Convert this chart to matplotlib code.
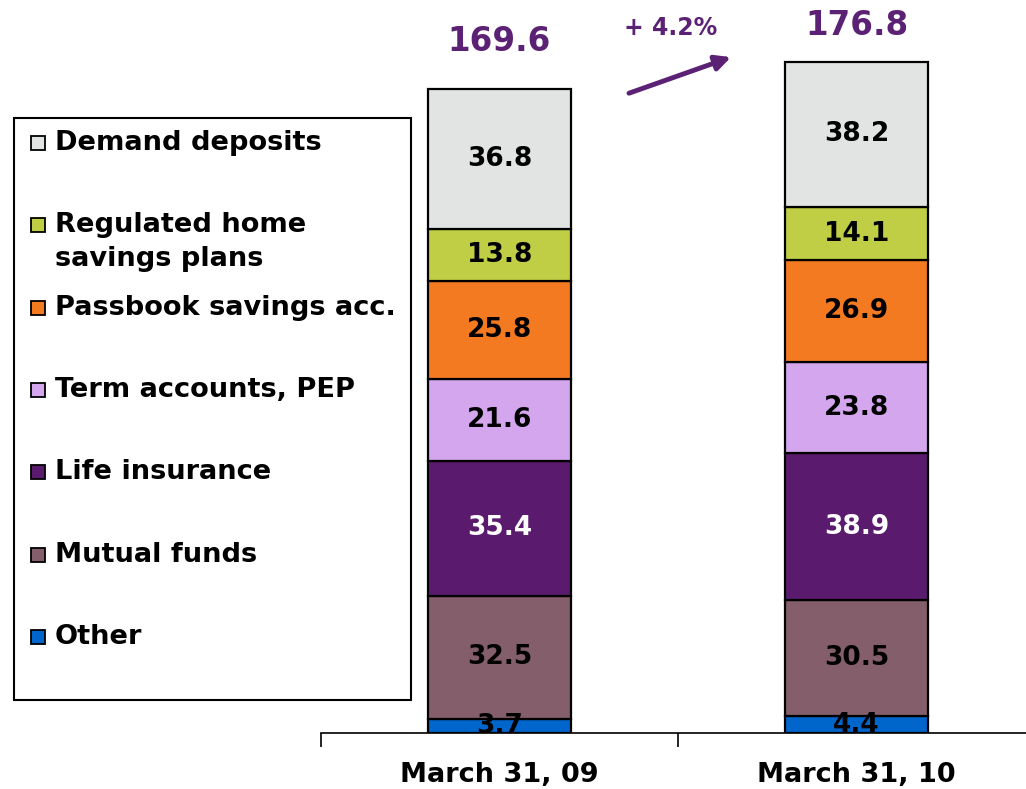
import matplotlib.pyplot as plt
from matplotlib.patches import Rectangle

# -----------------------------
# data
# -----------------------------
dates = ['March 31, 09', 'March 31, 10']
series = ['Other', 'Mutual funds', 'Life insurance', 'Term accounts, PEP',
          'Passbook savings acc.', 'Regulated home\nsavings plans', 'Demand deposits']
other = [3.7, 4.4]
mutual_funds = [32.5, 30.5]
life_insurance = [35.4, 38.9]
term_accounts = [21.6, 23.8]
passbook = [25.8, 26.9]
home_savings = [13.8, 14.1]
demand = [36.8, 38.2]
totals = [169.6, 176.8]
growth_label = '+ 4.2%'

values = [other, mutual_funds, life_insurance, term_accounts, passbook, home_savings, demand]
colors = ['#0066CC', '#845E6A', '#5A1B6E', '#D4A6EE', '#F47A22', '#BFCE44', '#E2E4E3']
text_colors = ['black', 'black', 'white', 'black', 'black', 'black', 'black']
purple = '#5B2174'

W, H = 1026, 789
fig = plt.figure(figsize=(W / 100, H / 100), dpi=100)


def fx(x):
    return x / W


def fy(y):
    return 1 - y / H


# axes: bottom at y=733px, left at x=321px, one category = 357px
ax_bottom = 733
ax_top = 5
ax_left = 321
ax = fig.add_axes([fx(ax_left), fy(ax_bottom), fx(W - ax_left), (ax_bottom - ax_top) / H])
px_per_unit = 3.797

x = [0, 1]
bottoms = [0, 0]
for vals, col, tcol in zip(values, colors, text_colors):
    ax.bar(x, vals, width=0.403, bottom=bottoms, color=col, edgecolor='black', linewidth=1.6, zorder=2)
    for i in range(2):
        ax.text(x[i], bottoms[i] + vals[i] / 2, f'{vals[i]:.1f}', ha='center', va='center',
                fontsize=19, fontweight='bold', color=tcol, zorder=3)
    bottoms = [bottoms[i] + vals[i] for i in range(2)]

# totals above the bars
ax.text(0, 182.0, f'{totals[0]:.1f}', ha='center', va='center', fontsize=23.5,
        fontweight='bold', color=purple, clip_on=False)
ax.text(1, 186.2, f'{totals[1]:.1f}', ha='center', va='center', fontsize=23.5,
        fontweight='bold', color=purple, clip_on=False)
ax.text(0.48, 185.7, growth_label, ha='center', va='center', fontsize=17,
        fontweight='bold', color=purple)
ax.annotate('', xy=(0.6485, 178.0), xytext=(0.3627, 168.5),
            arrowprops=dict(arrowstyle='-|>,head_length=0.9,head_width=0.45', color=purple, lw=3.5,
                            shrinkA=0, shrinkB=0))

# axis styling
for s in ['top', 'right', 'left']:
    ax.spines[s].set_visible(False)
ax.spines['bottom'].set_linewidth(1.2)
ax.set_yticks([])
ax.set_xticks(x)
ax.set_xticklabels(dates, fontsize=19.5, fontweight='bold')
ax.tick_params(axis='x', which='major', length=0, pad=21)
ax.set_xticks([-0.5, 0.5, 1.5], minor=True)
ax.tick_params(axis='x', which='minor', length=10, width=1.2, direction='out')
ax.set_ylim(0, (ax_bottom - ax_top) / px_per_unit)
ax.set_xlim(-0.5, -0.5 + (W - ax_left) / 357)

# legend box drawn on the figure
fig.patches.append(Rectangle((fx(14), fy(700)), fx(411 - 14), (700 - 118) / H,
                             transform=fig.transFigure, facecolor='white',
                             edgecolor='black', linewidth=1.5))
legend_order = series[::-1]
legend_colors = colors[::-1]
for i, (name, col) in enumerate(zip(legend_order, legend_colors)):
    yc = 143 + 82.3 * i
    fig.patches.append(Rectangle((fx(31), fy(yc + 7)), fx(14), 14 / H,
                                 transform=fig.transFigure, facecolor=col,
                                 edgecolor='black', linewidth=1.3))
    for j, line in enumerate(name.split('\n')):
        fig.text(fx(55), fy(yc + 34 * j), line, ha='left', va='center',
                 fontsize=19.6, fontweight='bold')

fig.savefig('out.png', dpi=100)
